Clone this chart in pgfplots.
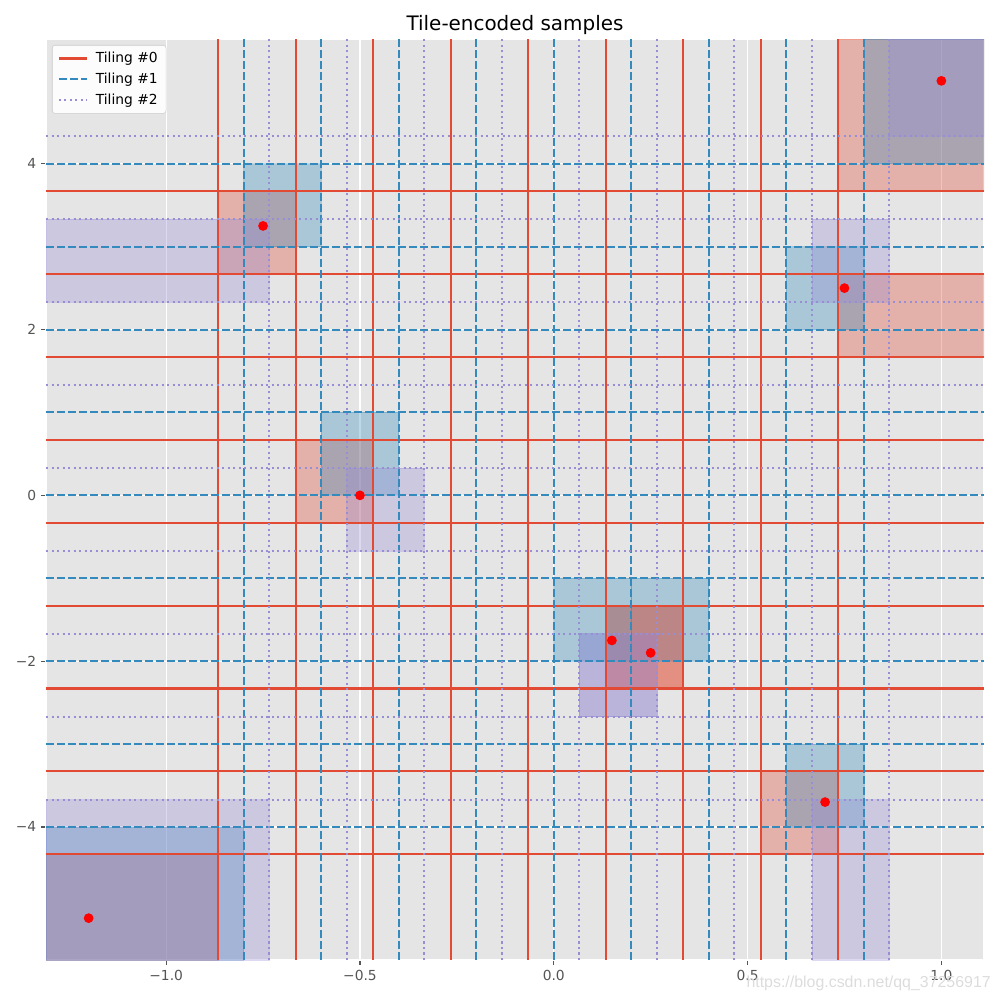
\documentclass[border=0pt]{standalone}
\usepackage{fontspec}
\setmainfont{DejaVu Sans}
\newfontfamily\wmfont{Liberation Sans}
\usepackage{pgfplots}
\pgfplotsset{compat=1.18}
\definecolor{c0}{HTML}{E24A33}
\definecolor{c1}{HTML}{348ABD}
\definecolor{c2}{HTML}{988ED5}
\definecolor{bg}{HTML}{E5E5E5}
\definecolor{tickgray}{HTML}{555555}
\definecolor{legframe}{HTML}{CCCCCC}
\definecolor{wm}{HTML}{DCDCDC}
% tile rectangle: colour, x0, x1, y0, y1
\newcommand{\tile}[5]{\addplot[forget plot, draw=#1, fill=#1, opacity=0.33, line width=0.5pt] coordinates {(#2,#4) (#3,#4) (#3,#5) (#2,#5)} -- cycle;}
\begin{document}
\begin{tikzpicture}
\begin{axis}[
  scale only axis, width=9.38in, height=9.21in,
  at={(0,0)}, anchor=south west,
  xmin=-1.31, xmax=1.11, ymin=-5.605, ymax=5.505,
  xtick={-1,-0.5,0,0.5,1}, xticklabels={−1.0,−0.5,0.0,0.5,1.0},
  ytick={-4,-2,0,2,4}, yticklabels={−4,−2,0,2,4},
  tick pos=left, tick align=outside, major tick length=3.5pt,
  tick style={color=tickgray, line width=0.8pt},
  ticklabel style={font=\fontsize{10}{12}\selectfont, text=tickgray},
  grid=major, grid style={white, line width=0.8pt},
  axis background/.style={fill=bg},
  axis line style={white, line width=1pt},
  title={Tile-encoded samples},
  title style={font=\fontsize{14.4}{17}\selectfont, anchor=base, at={(0.5,1)}},
  legend style={at={(0.0064,0.9935)}, anchor=north west, draw=legframe, fill=white,
    fill opacity=0.9, draw opacity=1, text opacity=1, rounded corners=2pt,
    font=\fontsize{10}{12}\selectfont, row sep=2pt, column sep=4pt, inner xsep=4pt, inner ysep=3pt},
  legend cell align=left,
  legend image code/.code={\draw[#1] (0pt,0pt) -- (20pt,0pt);},
]
\addlegendimage{c0, line width=1.5pt}
\addlegendentry{Tiling \#0}
\addlegendimage{c1, line width=1.5pt, dash pattern=on 5.55pt off 2.4pt}
\addlegendentry{Tiling \#1}
\addlegendimage{c2, line width=1.5pt, dash pattern=on 1.5pt off 2.475pt}
\addlegendentry{Tiling \#2}

% encoded tiles (sample by sample, tiling 0,1,2)
\tile{c0}{-1.31}{-0.866}{-5.605}{-4.33}
\tile{c1}{-1.31}{-0.8}{-5.605}{-4}
\tile{c2}{-1.31}{-0.734}{-5.605}{-3.67}
\tile{c0}{-0.866}{-0.666}{2.67}{3.67}
\tile{c1}{-0.8}{-0.6}{3}{4}
\tile{c2}{-1.31}{-0.734}{2.33}{3.33}
\tile{c0}{-0.666}{-0.466}{-0.33}{0.67}
\tile{c1}{-0.6}{-0.4}{0}{1}
\tile{c2}{-0.534}{-0.334}{-0.67}{0.33}
\tile{c0}{0.134}{0.334}{-2.33}{-1.33}
\tile{c1}{0.2}{0.4}{-2}{-1}
\tile{c2}{0.066}{0.266}{-2.67}{-1.67}
\tile{c0}{0.134}{0.334}{-2.33}{-1.33}
\tile{c1}{0}{0.2}{-2}{-1}
\tile{c2}{0.066}{0.266}{-2.67}{-1.67}
\tile{c0}{0.734}{1.11}{1.67}{2.67}
\tile{c1}{0.6}{0.8}{2}{3}
\tile{c2}{0.666}{0.866}{2.33}{3.33}
\tile{c0}{0.534}{0.734}{-4.33}{-3.33}
\tile{c1}{0.6}{0.8}{-4}{-3}
\tile{c2}{0.666}{0.866}{-5.605}{-3.67}
\tile{c0}{0.734}{1.11}{3.67}{5.505}
\tile{c1}{0.8}{1.11}{4}{5.505}
\tile{c2}{0.866}{1.11}{4.33}{5.505}

% Tiling #0
\pgfplotsinvokeforeach{-0.866,-0.666,-0.466,-0.266,-0.066,0.134,0.334,0.534,0.734}{
  \addplot[forget plot, c0, line width=1.5pt] coordinates {(#1,-5.605) (#1,5.505)};}
\pgfplotsinvokeforeach{-4.33,-3.33,-2.33,-1.33,-0.33,0.67,1.67,2.67,3.67}{
  \addplot[forget plot, c0, line width=1.5pt] coordinates {(-1.31,#1) (1.11,#1)};}
% Tiling #1
\pgfplotsinvokeforeach{-0.8,-0.6,-0.4,-0.2,0,0.2,0.4,0.6,0.8}{
  \addplot[forget plot, c1, line width=1.5pt, dash pattern=on 5.55pt off 2.4pt] coordinates {(#1,-5.605) (#1,5.505)};}
\pgfplotsinvokeforeach{-4,-3,-2,-1,0,1,2,3,4}{
  \addplot[forget plot, c1, line width=1.5pt, dash pattern=on 5.55pt off 2.4pt] coordinates {(-1.31,#1) (1.11,#1)};}
% Tiling #2
\pgfplotsinvokeforeach{-0.734,-0.534,-0.334,-0.134,0.066,0.266,0.466,0.666,0.866}{
  \addplot[forget plot, c2, line width=1.5pt, dash pattern=on 1.5pt off 2.475pt] coordinates {(#1,-5.605) (#1,5.505)};}
\pgfplotsinvokeforeach{-3.67,-2.67,-1.67,-0.67,0.33,1.33,2.33,3.33,4.33}{
  \addplot[forget plot, c2, line width=1.5pt, dash pattern=on 1.5pt off 2.475pt] coordinates {(-1.31,#1) (1.11,#1)};}

% samples
\addplot[forget plot, only marks, mark=*, color=red, mark size=3pt, mark options={line width=1pt}]
  coordinates {(-1.2,-5.1) (-0.75,3.25) (-0.5,0.0) (0.25,-1.9) (0.15,-1.75) (0.75,2.5) (0.7,-3.7) (1.0,5.0)};
\end{axis}
\node[anchor=base east, inner sep=0pt, text=wm, font=\wmfont\fontsize{11.5}{13}\selectfont] at (9.45in,-0.27in) {https://blog.csdn.net/qq\_37256917};
\path (-0.46in,-0.40in) rectangle (9.54in,9.60in);
\end{tikzpicture}
\end{document}
